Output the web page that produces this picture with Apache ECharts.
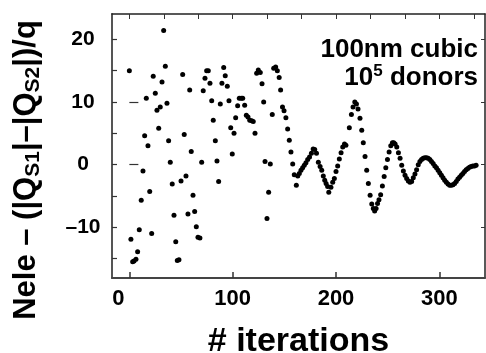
<!DOCTYPE html>
<html>
<head>
<meta charset="utf-8">
<script src="https://cdn.jsdelivr.net/npm/echarts@6/dist/echarts.min.js"></script>
<style>
html,body{margin:0;padding:0;background:#fff;}
#chart{width:486px;height:353px;}
</style>
</head>
<body>
<div id="chart"></div>
<script>
// iteration number
var iterX = [
0,1.5,3.2,4.5,6.4,8.0,9.6,11.5,13.2,14.8,16.4,18.0,19.7,21.6,23.1,25.1,26.7,28.4,29.9,31.6,
33.2,34.8,36.4,38.0,39.6,41.5,43.2,44.9,46.4,48.0,50.0,51.6,53.1,54.8,56.7,58.4,59.9,61.6,63.2,64.8,
66.4,68.3,70.0,71.5,73.2,74.8,76.4,78.0,79.7,81.2,83.2,84.8,86.4,88.0,89.6,91.3,92.8,94.8,96.4,98.1,
99.6,101.3,102.9,104.8,106.4,108.3,109.7,111.6,113.2,114.8,116.5,118.4,119.9,121.6,123.2,124.8,126.7,128.4,130.0,131.3,
133.2,134.8,136.4,138.3,139.7,141.6,143.2,145.0,146.4,148.2,149.7,151.5,153.2,154.8,156.4,158.1,159.6,161.6,
163.0,164.5,166.1,167.7,169.3,170.9,172.6,174.4,176.2,177.9,179.4,181.1,182.9,184.6,186.2,187.7,189.1,190.4,191.9,193.0,
195.1,196.8,198.4,200.0,201.6,203.2,204.9,206.5,208.2,209.6,
212.9,214.9,216.5,218.2,219.8,221.3,223.2,224.9,226.4,228.1,229.7,231.3,233.0,234.6,236.1,237.4,238.8,240.2,241.6,243.2,
244.9,246.6,248.2,249.8,251.4,253.0,254.6,255.9,
257.2,258.8,260.4,262.0,263.6,265.2,266.8,268.4,270.0,271.6,273.2,274.8,276.4,278.0,279.6,281.2,282.8,284.4,286.0,287.6,
289.2,290.8,292.4,294.0,295.6,297.2,298.8,300.4,302.0,303.6,305.2,306.8,308.4,310.0,311.6,313.2,314.8,316.4,318.0,319.6,
321.2,322.8,324.4,326.0,327.6,329.2,330.8,332.4,334.0,335.6
];
// Nele - (|Qs1| - |Qs2|)/q
var chargeDiff = [
15.0,-11.9,-15.5,-15.4,-15.1,-13.9,-10.4,-5.7,-1.0,4.6,10.6,3.0,-4.3,-11.0,14.1,11.4,8.7,5.8,9.2,13.2,
21.4,15.7,9.8,3.8,0.4,-3.1,-8.1,-12.3,-15.3,-15.2,-2.6,14.4,4.8,-1.8,-7.9,11.9,2.1,-4.9,-7.5,-9.9,
-11.6,-11.7,0.4,11.8,13.8,15.0,15.0,13.0,10.2,7.1,3.8,0.6,-2.7,9.7,13.0,15.5,14.2,12.5,10.2,5.9,
1.7,5.0,7.5,9.4,10.6,10.6,10.6,9.5,7.9,7.6,7.1,7.0,6.9,5.0,14.6,15.1,14.7,12.9,10.0,0.5,
-8.6,-4.4,0.1,8.0,15.4,15.6,15.0,13.9,11.9,9.2,8.6,7.5,5.7,3.9,2.0,0.1,-1.6,-3.3,
-1.8,-1.4,-0.9,-0.5,-0.1,0.3,0.8,1.2,1.8,2.5,2.4,1.8,0.4,-0.3,-0.9,-1.8,-2.5,-3.0,-3.5,-4.4,
-3.6,-2.8,-2.2,-1.1,-0.2,0.9,1.9,2.8,3.3,3.1,
5.9,8.0,9.2,10.0,9.7,8.9,7.4,5.5,3.5,1.3,-0.9,-3.0,-4.9,-6.3,-7.0,-7.4,-7.0,-6.2,-5.6,-4.8,
-3.4,-1.9,-0.5,0.8,2.0,3.0,3.5,3.5,
3.3,2.8,1.9,1.0,-0.1,-1.0,-1.7,-2.2,-2.6,-2.8,-2.7,-2.1,-1.5,-0.8,0.0,0.5,0.8,1.0,1.1,1.1,
1.0,0.8,0.5,0.2,-0.2,-0.5,-0.9,-1.3,-1.7,-2.1,-2.5,-2.8,-3.1,-3.3,-3.3,-3.2,-3.0,-2.7,-2.3,-2.0,
-1.7,-1.4,-1.1,-0.8,-0.6,-0.4,-0.3,-0.2,-0.2,-0.1
];
var xTickLabels = [0, 100, 200, 300];
var xTopTicks = [0, 33.33, 66.67, 100, 133.33, 166.67, 200, 233.33, 266.67, 300, 333.33];
var yTickLabels = [-10, 0, 10, 20];
var yMinorTicks = [-15, -10, -5, 0, 5, 10, 15, 20];
var yLongTicks = [0, 10];
var xTitle = '# iterations';
var annotLine1 = '100nm cubic';

var points = iterX.map(function (x, i) { return [x, chargeDiff[i]]; });

var chart = echarts.init(document.getElementById('chart'), null, {renderer: 'canvas'});
var FONT = 'Liberation Sans, Arial, sans-serif';
var XMIN = -16.8, XMAX = 344.2, YMIN = -18.1, YMAX = 24.05;

var option = {
  animation: false,
  backgroundColor: '#fff',
  grid: {left: 112, right: 1, top: 14, bottom: 75, outerBoundsMode: 'none', containLabel: false},
  xAxis: [
    {
      type: 'value', position: 'bottom', min: XMIN, max: XMAX,
      axisLine: {show: true, onZero: false, lineStyle: {color: '#444', width: 2}},
      axisTick: {show: true, inside: true, length: 6, customValues: xTickLabels, lineStyle: {color: '#333', width: 1.5}},
      axisLabel: {
        show: true, customValues: xTickLabels, margin: 10,
        fontFamily: FONT, fontWeight: 'bold', fontSize: 22, color: '#000',
        formatter: function (v) { return v === 0 ? '{z|0}' : '{n|' + v + '}'; },
        rich: {
          z: {fontFamily: FONT, fontWeight: 'bold', fontSize: 22, color: '#000', padding: [0, 22, 0, 0]},
          n: {fontFamily: FONT, fontWeight: 'bold', fontSize: 22, color: '#000'}
        }
      },
      splitLine: {show: false},
      name: xTitle, nameLocation: 'middle', nameGap: 47,
      nameTextStyle: {fontFamily: FONT, fontWeight: 'bold', fontSize: 34, color: '#000'}
    },
    {
      type: 'value', position: 'top', min: XMIN, max: XMAX,
      axisLine: {show: true, onZero: false, lineStyle: {color: '#222', width: 1.5}},
      axisTick: {show: true, inside: true, length: 5, customValues: xTopTicks, lineStyle: {color: '#333', width: 1}},
      axisLabel: {show: false},
      splitLine: {show: false}
    }
  ],
  yAxis: [
    {
      type: 'value', position: 'left', min: YMIN, max: YMAX,
      axisLine: {show: true, onZero: false, lineStyle: {color: '#555', width: 2}},
      axisTick: {show: true, inside: true, length: 5, customValues: yMinorTicks, lineStyle: {color: '#333', width: 1.2}},
      axisLabel: {
        show: true, customValues: yTickLabels, margin: 29, align: 'center',
        fontFamily: FONT, fontWeight: 'bold', fontSize: 21, color: '#000',
        formatter: function (v) { return String(v).replace('-', '\u2013'); }
      },
      splitLine: {show: false},
      name: '{m|Nele \u2013 (|Q}{s|S1}{m||\u2013|Q}{s|S2}{m||)/q}',
      nameLocation: 'middle', nameGap: 70, nameRotate: 90,
      nameTextStyle: {
        fontFamily: FONT, fontWeight: 'bold', fontSize: 31, color: '#000',
        padding: [0, 48, 0, 0],
        rich: {
          m: {fontFamily: FONT, fontWeight: 'bold', fontSize: 31, color: '#000', lineHeight: 31, verticalAlign: 'top'},
          s: {fontFamily: FONT, fontWeight: 'bold', fontSize: 21, color: '#000', lineHeight: 25, padding: [12, 0, 0, 0], verticalAlign: 'top'}
        }
      }
    },
    {
      type: 'value', position: 'right', min: YMIN, max: YMAX,
      axisLine: {show: true, onZero: false, lineStyle: {color: '#222', width: 1.5}},
      axisTick: {show: true, inside: true, length: 4, customValues: yTickLabels, lineStyle: {color: '#333', width: 1}},
      axisLabel: {show: false},
      splitLine: {show: false}
    },
    {
      type: 'value', position: 'left', min: YMIN, max: YMAX,
      axisLine: {show: false},
      axisTick: {show: true, inside: true, length: 9, customValues: yLongTicks, lineStyle: {color: '#333', width: 1.2}},
      axisLabel: {show: false},
      splitLine: {show: false}
    }
  ],
  series: [{
    type: 'scatter', xAxisIndex: 0, yAxisIndex: 0,
    data: points, symbol: 'circle', symbolSize: 5,
    itemStyle: {color: '#000', opacity: 1},
    emphasis: {disabled: true}
  }],
  graphic: [
    {
      type: 'text', right: 8, top: 37, z: 100,
      style: {text: annotLine1, font: 'bold 26px ' + FONT, fill: '#000', align: 'right'}
    },
    {
      type: 'text', right: 8, top: 63, z: 100,
      style: {
        text: '{a|10}{p|5}{a| donors}',
        fill: '#000',
        rich: {
          a: {font: 'bold 26px ' + FONT, fill: '#000', lineHeight: 28, verticalAlign: 'bottom'},
          p: {font: 'bold 17px ' + FONT, fill: '#000', lineHeight: 17, verticalAlign: 'top'}
        }
      }
    }
  ]
};
chart.setOption(option);
</script>
</body>
</html>
